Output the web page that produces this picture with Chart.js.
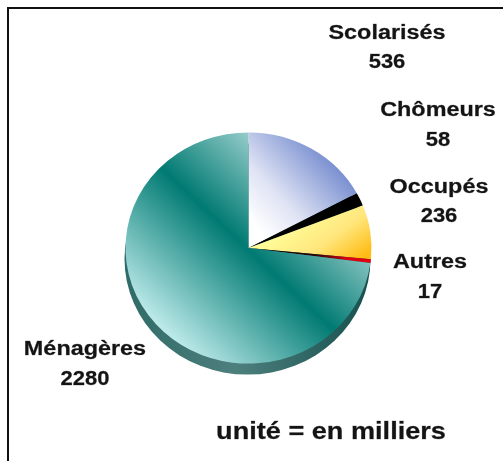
<!DOCTYPE html>
<html><head><meta charset="utf-8">
<style>
html,body{margin:0;padding:0;background:#fff;width:503px;height:461px;overflow:hidden}
#wrap{position:absolute;left:0;top:0;width:503px;height:461px;overflow:hidden}
#frame{position:absolute;left:7px;top:7px;width:520px;height:480px;box-sizing:border-box;border:2px solid #111;pointer-events:none}
canvas{position:absolute;left:0;top:0;filter:blur(0.45px)}
</style>
<script src="https://cdn.jsdelivr.net/npm/chart.js@4/dist/chart.umd.min.js"></script>
</head><body>
<div id="wrap"><div id="frame"></div><canvas id="c" width="503" height="461"></canvas></div>
<script>
const categories=["Scolarisés","Chômeurs","Occupés","Autres","Ménagères"];
const values=[536,58,236,17,2280];
const unitNote="unité = en milliers";
const labelSpots=[[387,33,62],[438,110,140],[439,187,216],[430,262,292],[85,349,379]];
const squash=0.94, depth=11;

function grad(ctx,x0,y0,x1,y1,stops){
  const g=ctx.createLinearGradient(x0,y0,x1,y1);
  stops.forEach(s=>g.addColorStop(s[0],s[1]));
  return g;
}
function wideText(c,t,x,y,sx){
  c.save();
  c.translate(x,y);c.scale(sx,1);
  c.fillText(t,0,0);
  c.strokeText(t,0,0);
  c.restore();
}
const ctx0=document.getElementById('c').getContext('2d');
const fills=[
  grad(ctx0,262,232,345,160,[[0,'#ffffff'],[0.35,'#dfe3f4'],[1,'#6e86cc']]),
  '#000000',
  grad(ctx0,305,205,352,266,[[0,'#ffff9c'],[0.55,'#ffe67c'],[1,'#ffbc14']]),
  grad(ctx0,250,247,372,262,[[0,'#000000'],[0.55,'#300004'],[0.8,'#e00010'],[1,'#e00010']]),
  grad(ctx0,160,335,315,180,[[0,'#c0ecec'],[0.56,'#007a72'],[1,'#a4d4d2']])
];

const pieLook={
  id:'pieLook',
  beforeDatasetsDraw(chart){
    const a=chart.getDatasetMeta(0).data[0];
    const c=chart.ctx;
    c.save();
    c.fillStyle=grad(c,a.x-a.outerRadius,0,a.x+a.outerRadius,0,[[0,'#2f6b68'],[0.45,'#4d7f7d'],[1,'#16504e']]);
    c.beginPath();
    c.ellipse(a.x-1,a.y+depth,a.outerRadius,a.outerRadius*squash,0,0,Math.PI*2);
    c.fill();
    c.restore();
    c.save();
    c.translate(0,a.y);c.scale(1,squash);c.translate(0,-a.y);
  },
  afterDatasetsDraw(chart){
    const c=chart.ctx;
    c.restore();
    c.save();
    c.fillStyle='#141414';
    c.strokeStyle='rgba(20,20,20,0.6)';
    c.lineWidth=0.4;
    c.textAlign='center';c.textBaseline='middle';
    c.font='bold 20px "Liberation Sans"';
    categories.forEach((n,i)=>{
      const s=labelSpots[i];
      wideText(c,n,s[0],s[1],1.17);
      wideText(c,String(values[i]),s[0],s[2],1.1);
    });
    c.font='bold 24px "Liberation Sans"';
    wideText(c,unitNote,331,432,1.13);
    c.restore();
  }
};
new Chart(ctx0,{
  type:'pie',
  data:{labels:categories,datasets:[{data:values,backgroundColor:fills,borderWidth:0}]},
  options:{
    responsive:false,animation:false,
    layout:{padding:{left:125.5,right:131.5,top:125,bottom:90}},
    plugins:{legend:{display:false},tooltip:{enabled:false},title:{display:false}}
  },
  plugins:[pieLook]
});
</script>
</body></html>
